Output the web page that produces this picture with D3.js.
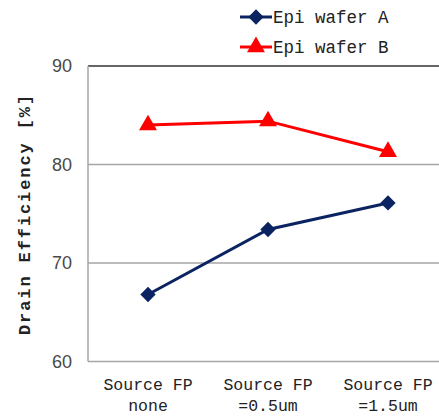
<!DOCTYPE html>
<html>
<head>
<meta charset="utf-8">
<script src="https://cdn.jsdelivr.net/npm/d3@7"></script>
<style>
  html, body { margin: 0; padding: 0; background: #fff; }
  svg { display: block; }
</style>
</head>
<body>
<svg id="chart" width="439" height="417"></svg>
<script>
// Drain efficiency for two epi wafers vs. source field-plate length
const categories = [["Source FP", "none"], ["Source FP", "=0.5um"], ["Source FP", "=1.5um"]];
const seriesNames = ["Epi wafer A", "Epi wafer B"];
const waferA = [66.8, 73.4, 76.1];
const waferB = [84.0, 84.4, 81.3];
const yTicks = [60, 70, 80, 90];
const colors = ["#0b2461", "#ff0000"];

const svg = d3.select("#chart");
const plot = { left: 88, right: 448, top: 66, bottom: 361.5 };

const x = d3.scalePoint()
  .domain(d3.range(categories.length))
  .range([plot.left, plot.right])
  .padding(0.5);

const y = d3.scaleLinear().domain([60, 90]).range([plot.bottom, plot.top]);

// horizontal gridlines
svg.append("g").selectAll("line")
  .data(yTicks)
  .join("line")
  .attr("x1", plot.left).attr("x2", plot.right)
  .attr("y1", d => y(d)).attr("y2", d => y(d))
  .attr("stroke", d => d === 90 ? "#666" : "#a6a6a6")
  .attr("stroke-width", d => d === 90 ? 2 : 1.5);

// left axis line
svg.append("line")
  .attr("x1", plot.left).attr("x2", plot.left)
  .attr("y1", plot.top).attr("y2", plot.bottom)
  .attr("stroke", "#a6a6a6").attr("stroke-width", 1.5);

// y tick labels
const yAxis = svg.append("g")
  .attr("transform", `translate(${plot.left},0)`)
  .call(d3.axisLeft(y).tickValues(yTicks).tickSize(0).tickPadding(16));
yAxis.select(".domain").remove();
yAxis.selectAll("text")
  .attr("font-family", "Liberation Sans, Arial, sans-serif")
  .attr("font-size", 18)
  .attr("fill", "#4a4a4a");

// x category labels
const xAxis = svg.append("g");
categories.forEach((lines, i) => {
  const t = xAxis.append("text")
    .attr("x", x(i))
    .attr("text-anchor", "middle")
    .attr("font-family", "Liberation Mono, Courier New, monospace")
    .attr("font-size", 16.5)
    .attr("fill", "#222");
  lines.forEach((s, j) => {
    t.append("tspan").attr("x", x(i)).attr("y", 390 + j * 21).text(s);
  });
});

// y axis title
svg.append("text")
  .attr("transform", "translate(30,214) rotate(-90)")
  .attr("text-anchor", "middle")
  .attr("font-family", "Liberation Mono, Courier New, monospace")
  .attr("font-weight", "bold")
  .attr("font-size", 17)
  .attr("letter-spacing", 1.9)
  .attr("fill", "#222")
  .text("Drain Efficiency [%]");

const diamond = d3.symbol().type(d3.symbolDiamond2).size(150);
const triangle = d3.symbol().type(d3.symbolTriangle).size(140);

const line = d3.line().x((d, i) => x(i)).y(d => y(d));

const series = [
  { name: seriesNames[0], values: waferA, color: colors[0], symbol: diamond },
  { name: seriesNames[1], values: waferB, color: colors[1], symbol: triangle }
];

series.forEach(s => {
  svg.append("path")
    .datum(s.values)
    .attr("d", line)
    .attr("fill", "none")
    .attr("stroke", s.color)
    .attr("stroke-width", 3);
  svg.append("g").selectAll("path")
    .data(s.values)
    .join("path")
    .attr("transform", (d, i) => `translate(${x(i)},${y(d)})`)
    .attr("d", s.symbol)
    .attr("fill", s.color);
});

// legend
const legend = svg.append("g");
series.forEach((s, i) => {
  const ly = 17 + i * 30;
  legend.append("line")
    .attr("x1", 240).attr("x2", 272)
    .attr("y1", ly).attr("y2", ly)
    .attr("stroke", s.color).attr("stroke-width", 3);
  legend.append("path")
    .attr("transform", `translate(256,${ly})`)
    .attr("d", s.symbol)
    .attr("fill", s.color);
  legend.append("text")
    .attr("x", 273).attr("y", ly + 6)
    .attr("font-family", "Liberation Mono, Courier New, monospace")
    .attr("font-size", 17.5)
    .attr("fill", "#222")
    .text(s.name);
});
</script>
</body>
</html>
